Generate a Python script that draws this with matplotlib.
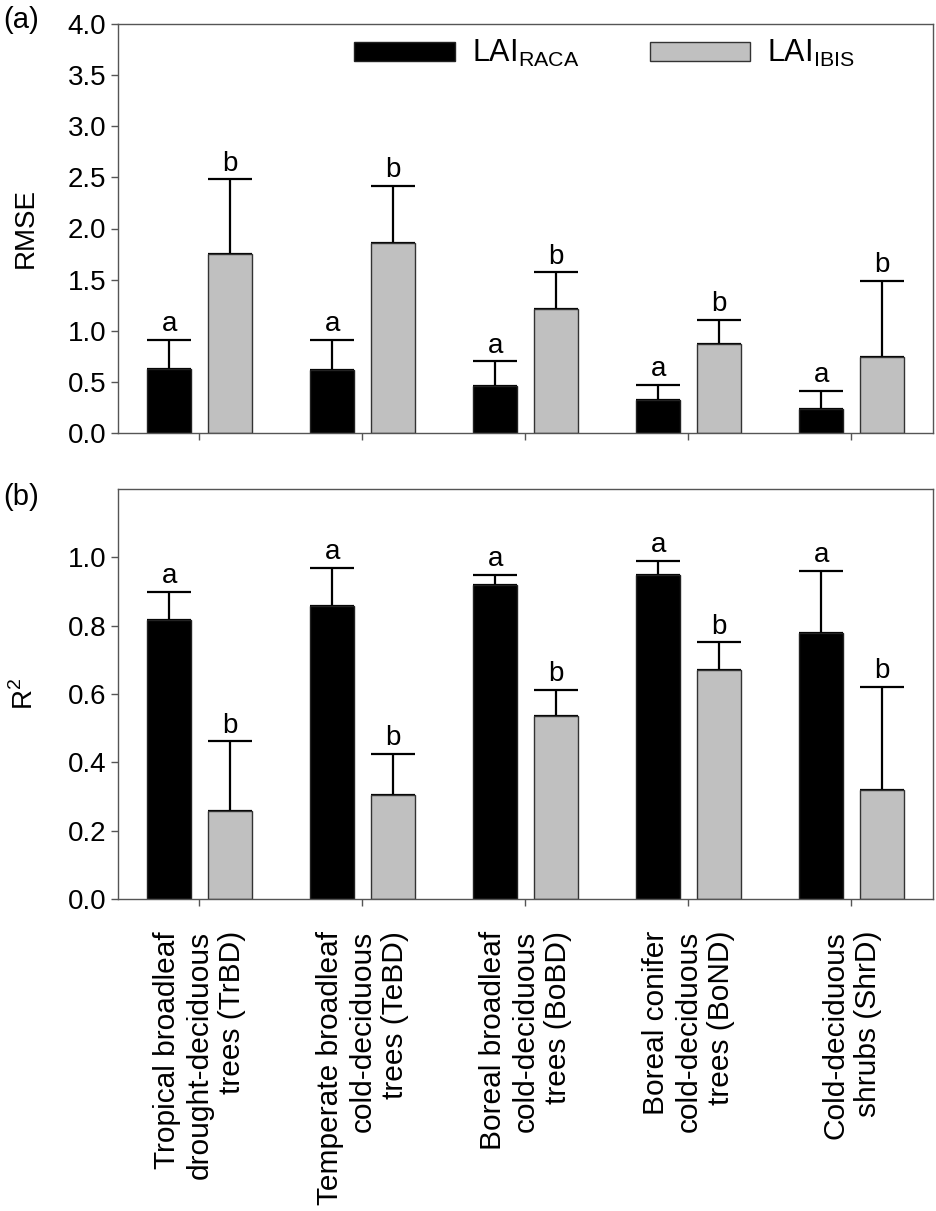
import numpy as np
import matplotlib
matplotlib.use("Agg")
import matplotlib.pyplot as plt

plt.rcParams['font.family'] = ['Liberation Sans', 'DejaVu Sans']
plt.rcParams['mathtext.fontset'] = 'custom'
plt.rcParams['mathtext.rm'] = 'Liberation Sans'

# --- data ---
categories = [
    "Tropical broadleaf\ndrought-deciduous\ntrees (TrBD)",
    "Temperate broadleaf\ncold-deciduous\ntrees (TeBD)",
    "Boreal broadleaf\ncold-deciduous\ntrees (BoBD)",
    "Boreal conifer\ncold-deciduous\ntrees (BoND)",
    "Cold-deciduous\nshrubs (ShrD)",
]
series_names = [r"LAI$_{\mathregular{RACA}}$", r"LAI$_{\mathregular{IBIS}}$"]

rmse_raca = [0.63, 0.62, 0.46, 0.32, 0.235]
rmse_raca_err = [0.28, 0.29, 0.24, 0.15, 0.175]
rmse_ibis = [1.75, 1.855, 1.21, 0.87, 0.74]
rmse_ibis_err = [0.73, 0.565, 0.36, 0.235, 0.75]

r2_raca = [0.818, 0.859, 0.919, 0.949, 0.78]
r2_raca_err = [0.082, 0.11, 0.03, 0.041, 0.18]
r2_ibis = [0.259, 0.304, 0.537, 0.671, 0.319]
r2_ibis_err = [0.202, 0.12, 0.075, 0.08, 0.302]

letters_raca = ["a", "a", "a", "a", "a"]
letters_ibis = ["b", "b", "b", "b", "b"]

W, H = 937, 1211
fig = plt.figure(figsize=(W / 100, H / 100), dpi=100)
ax1 = fig.add_axes([118 / W, 1 - 433 / H, 815 / W, 409 / H])
ax2 = fig.add_axes([118 / W, 1 - 899 / H, 815 / W, 410 / H])

x = np.arange(len(categories))
bw = 0.27
off = 0.185
spine_col = "#555555"


def draw(ax, v1, e1, v2, e2, l1, l2):
    ax.bar(x - off, v1, bw, color="black", edgecolor="#222222", linewidth=1,
           label=series_names[0], zorder=2)
    ax.bar(x + off, v2, bw, color="#c0c0c0", edgecolor="#333333", linewidth=1,
           label=series_names[1], zorder=2)
    ax.errorbar(x - off, v1, yerr=[np.zeros(len(v1)), e1], fmt="none",
                ecolor="black", elinewidth=1.6, capsize=15.5, capthick=1.6, zorder=1)
    ax.errorbar(x + off, v2, yerr=[np.zeros(len(v2)), e2], fmt="none",
                ecolor="black", elinewidth=1.6, capsize=15.5, capthick=1.6, zorder=1)
    for i in range(len(x)):
        ax.annotate(l1[i], (x[i] - off, v1[i] + e1[i]), xytext=(0, 2),
                    textcoords="offset points", ha="center", va="bottom", fontsize=20)
        ax.annotate(l2[i], (x[i] + off, v2[i] + e2[i]), xytext=(0, 2),
                    textcoords="offset points", ha="center", va="bottom", fontsize=20)
    ax.set_xlim(-0.5, 4.5)
    ax.set_xticks(x)
    for s in ax.spines.values():
        s.set_color(spine_col)
        s.set_linewidth(1.0)
    ax.tick_params(axis="both", direction="out", length=5, width=1, color=spine_col,
                   labelsize=20)


draw(ax1, rmse_raca, rmse_raca_err, rmse_ibis, rmse_ibis_err, letters_raca, letters_ibis)
draw(ax2, r2_raca, r2_raca_err, r2_ibis, r2_ibis_err, letters_raca, letters_ibis)

ax1.set_ylim(0, 4.0)
ax1.set_yticks(np.arange(0, 4.01, 0.5))
ax1.set_yticklabels([f"{v:.1f}" for v in np.arange(0, 4.01, 0.5)])
ax1.set_xticklabels([])
ax1.set_ylabel("RMSE", fontsize=20)

ax2.set_ylim(0, 1.2)
ax2.set_yticks(np.arange(0, 1.01, 0.2))
ax2.set_yticklabels([f"{v:.1f}" for v in np.arange(0, 1.01, 0.2)])
ax2.set_xticklabels(categories, rotation=90, ha="center", va="top",
                    multialignment="right", fontsize=21.5)
ax2.tick_params(axis="x", pad=18)
ax2.set_ylabel(r"R$^{\mathregular{2}}$", fontsize=20)

ax1.yaxis.set_label_coords(-0.097, 0.5)
ax2.yaxis.set_label_coords(-0.097, 0.5)

ax1.legend(loc="center left", bbox_to_anchor=(0.29, 0.927), ncol=2, frameon=False,
           fontsize=22, handlelength=3.3, handleheight=0.55, handletextpad=0.55,
           columnspacing=2.3, borderpad=0, borderaxespad=0)

fig.text(3 / W, 1 - 20 / H, "(a)", fontsize=21, va="center", ha="left")
fig.text(3 / W, 1 - 497 / H, "(b)", fontsize=21, va="center", ha="left")

fig.savefig("out.png", dpi=100)
